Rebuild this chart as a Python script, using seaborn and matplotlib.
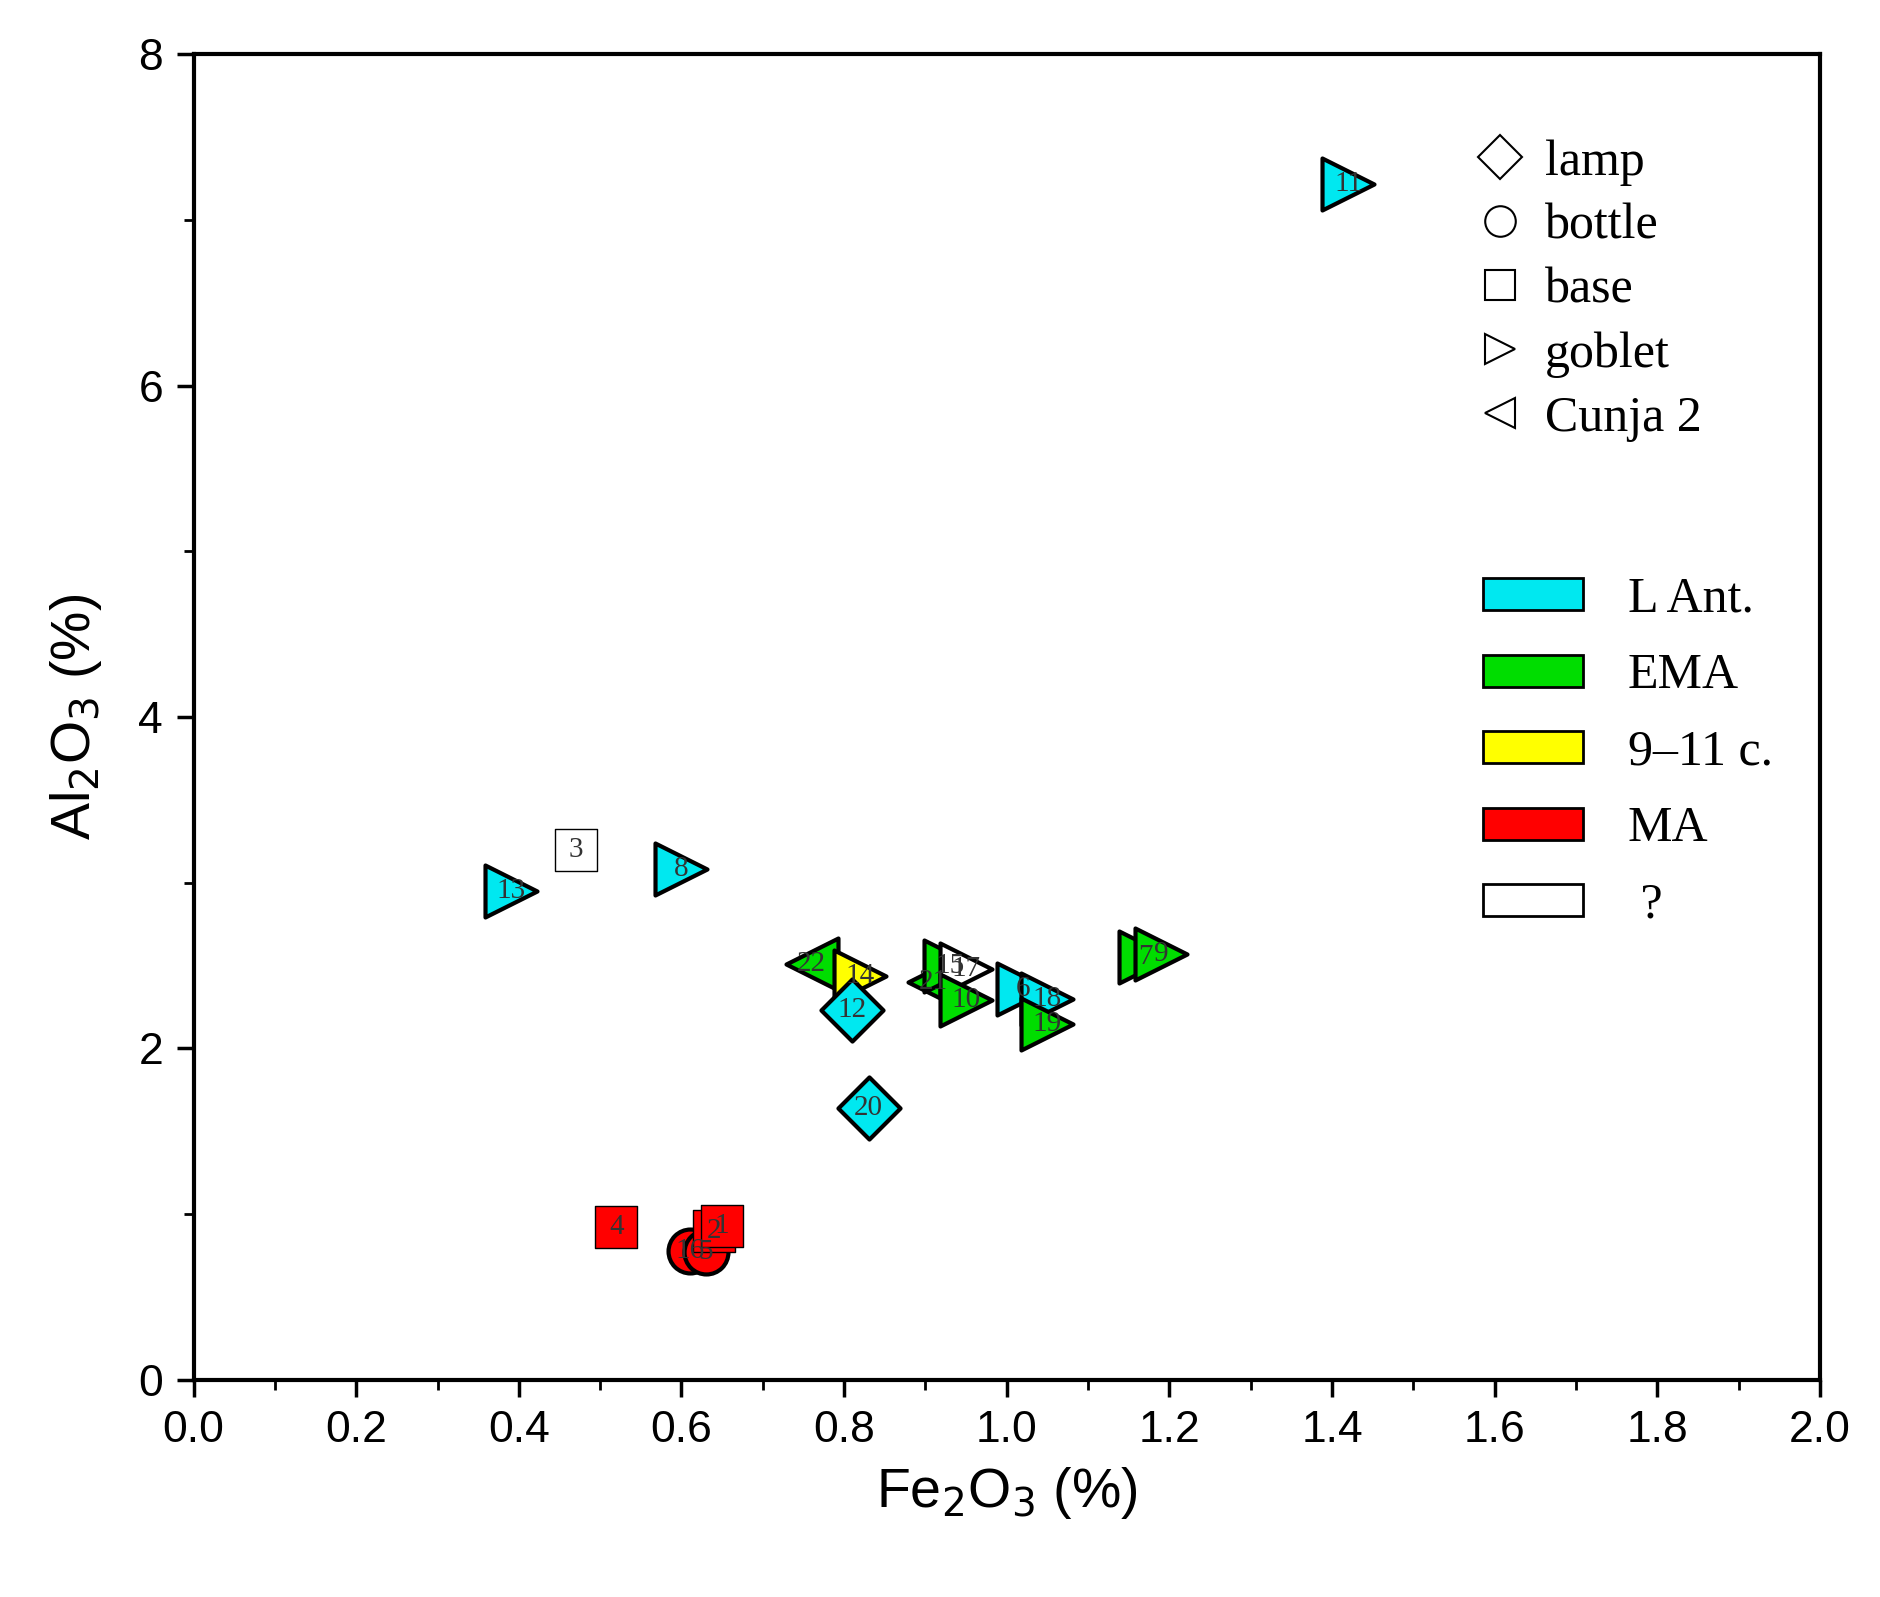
import matplotlib
matplotlib.use("Agg")
import matplotlib.pyplot as plt
from matplotlib.lines import Line2D
from matplotlib.patches import Patch
import pandas as pd
import seaborn as sns

labels = ["11", "13", "3", "8", "22", "14", "12", "21", "15", "17", "10", "6", "18", "19", "7", "9", "20", "4", "16", "5", "2", "1"]
fe2o3 = [1.42, 0.39, 0.47, 0.60, 0.76, 0.82, 0.81, 0.91, 0.93, 0.95, 0.95, 1.02, 1.05, 1.05, 1.17, 1.19, 0.83, 0.52, 0.61, 0.63, 0.64, 0.65]
al2o3 = [7.22, 2.95, 3.20, 3.08, 2.51, 2.44, 2.23, 2.40, 2.50, 2.48, 2.29, 2.36, 2.30, 2.15, 2.55, 2.57, 1.64, 0.92, 0.78, 0.77, 0.90, 0.93]
shapes = ["goblet", "goblet", "base", "goblet", "Cunja 2", "goblet", "lamp", "Cunja 2", "goblet", "goblet", "goblet",
          "goblet", "goblet", "goblet", "goblet", "goblet", "lamp", "base", "bottle", "bottle", "base", "base"]
periods = ["L Ant.", "L Ant.", "?", "L Ant.", "EMA", "9-11 c.", "L Ant.", "EMA", "EMA", "?", "EMA",
           "L Ant.", "L Ant.", "EMA", "EMA", "EMA", "L Ant.", "MA", "MA", "MA", "MA", "MA"]

shape_markers = {"lamp": "D", "bottle": "o", "base": "s", "goblet": ">", "Cunja 2": "<"}
shape_sizes = {"lamp": 1000, "bottle": 1000, "base": 900, "goblet": 1400, "Cunja 2": 1400}
period_colors = {"L Ant.": "#00e8f0", "EMA": "#00dd00", "9-11 c.": "#ffff00", "MA": "#ff0000", "?": "#ffffff"}
period_names = {"L Ant.": "L Ant.", "EMA": "EMA", "9-11 c.": "9\u201311 c.", "MA": "MA", "?": " ?"}

df = pd.DataFrame({"label": labels, "Fe2O3": fe2o3, "Al2O3": al2o3, "shape": shapes, "period": periods})

fig = plt.figure(figsize=(18.8, 15.97), dpi=100)
ax = fig.add_axes([0.103, 0.136, 0.865, 0.83])

for idx, row in df.iterrows():
    sub = df.loc[[idx]]
    sns.scatterplot(data=sub, x="Fe2O3", y="Al2O3", hue="period", palette=period_colors,
                    marker=shape_markers[row["shape"]], s=shape_sizes[row["shape"]], edgecolor="black",
                    linewidth=3 if row["shape"] != "base" else 1, legend=False, ax=ax, zorder=3)
    ax.text(row["Fe2O3"], row["Al2O3"], row["label"], fontsize=21, family="Liberation Serif",
            ha="center", va="center", color="#333333", zorder=4)

ax.set_xlim(0, 2.0)
ax.set_ylim(0, 8)
ax.set_xticks([i / 10 * 2 for i in range(11)])
ax.set_xticks([i / 10 for i in range(21)], minor=True)
ax.set_yticks([0, 2, 4, 6, 8])
ax.set_yticks(range(9), minor=True)
ax.set_xticklabels([f"{i * 0.2:.1f}" for i in range(11)])
for side in ("left", "bottom", "top", "right"):
    ax.spines[side].set_linewidth(3)
ax.tick_params(which="major", length=12, width=2.5, labelsize=32, pad=10)
ax.tick_params(which="minor", length=7, width=2)
for lab in ax.get_xticklabels() + ax.get_yticklabels():
    lab.set_family("Liberation Sans")
ax.set_xlabel("Fe$_2$O$_3$ (%)", fontsize=40, family="Liberation Sans", labelpad=10)
ax.set_ylabel("Al$_2$O$_3$ (%)", fontsize=40, family="Liberation Sans", labelpad=25)

shape_handles = [Line2D([], [], marker=m, color="none", markerfacecolor="white", markeredgecolor="black",
                        markersize=22, markeredgewidth=1.5, label=k) for k, m in shape_markers.items()]
leg1 = ax.legend(handles=shape_handles, loc="upper left", bbox_to_anchor=(0.76, 0.97), frameon=False,
                 prop={"family": "Liberation Serif", "size": 36}, handlelength=1.0, handletextpad=0.4,
                 labelspacing=0.35)
ax.add_artist(leg1)
color_handles = [Patch(facecolor=c, edgecolor="black", linewidth=2, label=period_names[k]) for k, c in period_colors.items()]
ax.legend(handles=color_handles, loc="upper left", bbox_to_anchor=(0.765, 0.64), frameon=False,
          prop={"family": "Liberation Serif", "size": 36}, handlelength=2.0, handleheight=0.6,
          handletextpad=0.9, labelspacing=0.6)

fig.savefig("out.png", dpi=100, facecolor="white")
